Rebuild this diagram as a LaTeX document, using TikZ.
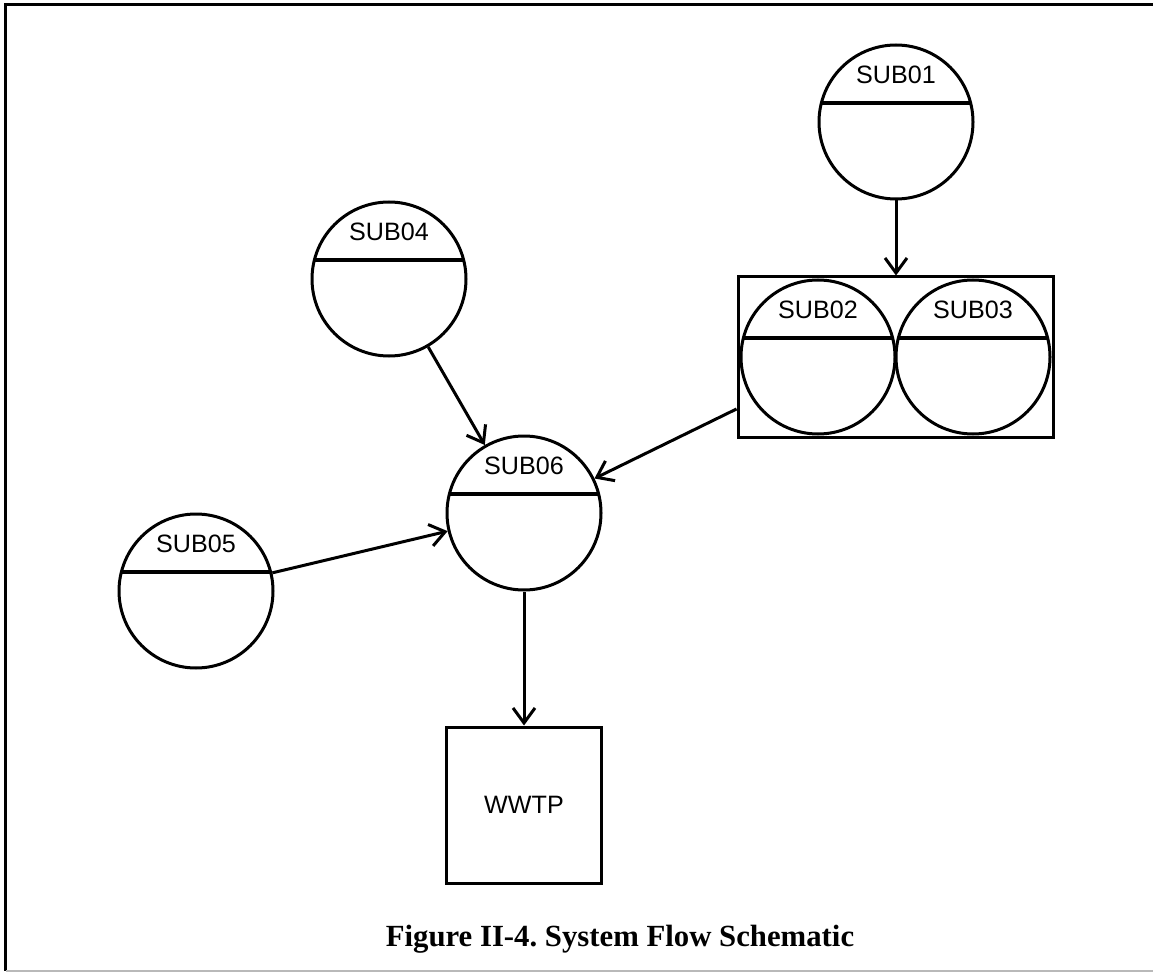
\documentclass[tikz,border=0pt]{standalone}
\usepackage{fontspec}
\setmainfont{Liberation Serif}
\setsansfont{Liberation Sans}
\usepackage{tikz}
\usetikzlibrary{positioning,arrows.meta,fit}

\begin{document}
\begin{tikzpicture}[
  >={Straight Barb[length=0.3cm,width=0.44cm]},
  tank/.style={draw, circle, line width=0.06cm, minimum size=3.08cm, inner sep=0pt,
               path picture={\draw[line width=0.07cm]
                 ([yshift=0.38cm]path picture bounding box.west) --
                 ([yshift=0.38cm]path picture bounding box.east);}},
  tankTxt/.style={font=\sffamily\fontsize{14.3}{16}\selectfont, inner sep=0pt},
  plant/.style={draw, line width=0.06cm, minimum width=3.1cm, minimum height=3.12cm,
                font=\sffamily\fontsize{14.3}{16}\selectfont},
  arr/.style={->, line width=0.06cm},
]
\useasboundingbox (0,0) rectangle (23.06,-19.46);
% frame
\draw[line width=0.06cm] (23.06,-0.1) -- (0.12,-0.1) -- (0.12,-19.42);
\draw[gray!55, line width=0.04cm] (0.12,-19.42) -- (23.06,-19.42);

\node[tank] (sub01) at (17.92,-2.44) {};
\node[tank] (sub02) at (16.36,-7.14) {};
\node[tank] (sub03) at (19.46,-7.14) {};
\node[tank] (sub04) at (7.78,-5.58) {};
\node[tank] (sub05) at (3.92,-11.82) {};
\node[tank] (sub06) at (10.48,-10.26) {};
\node[draw, line width=0.06cm, fit=(sub02)(sub03), inner sep=0.03cm] (grp) {};
\node[plant] (wwtp) at (10.48,-16.1) {WWTP};

\node[tankTxt] (sub01-t) at ([yshift=0.94cm]sub01.center) {SUB01};
\node[tankTxt] (sub02-t) at ([yshift=0.94cm]sub02.center) {SUB02};
\node[tankTxt] (sub03-t) at ([yshift=0.94cm]sub03.center) {SUB03};
\node[tankTxt] (sub04-t) at ([yshift=0.94cm]sub04.center) {SUB04};
\node[tankTxt] (sub05-t) at ([yshift=0.94cm]sub05.center) {SUB05};
\node[tankTxt] (sub06-t) at ([yshift=0.94cm]sub06.center) {SUB06};

\node[font=\bfseries\fontsize{17.5}{20}\selectfont] (cap) at (12.4,-18.78)
  {Figure II-4.\ System Flow Schematic};

\draw[arr] (sub01) -- (sub01 |- grp.north);
\draw[arr] (sub04) -- (sub06);
\draw[arr] (sub05) -- (sub06);
\draw[arr] ([yshift=-1.04cm]grp.west) -- (sub06);
\draw[arr] (sub06) -- (wwtp);
\end{tikzpicture}
\end{document}
